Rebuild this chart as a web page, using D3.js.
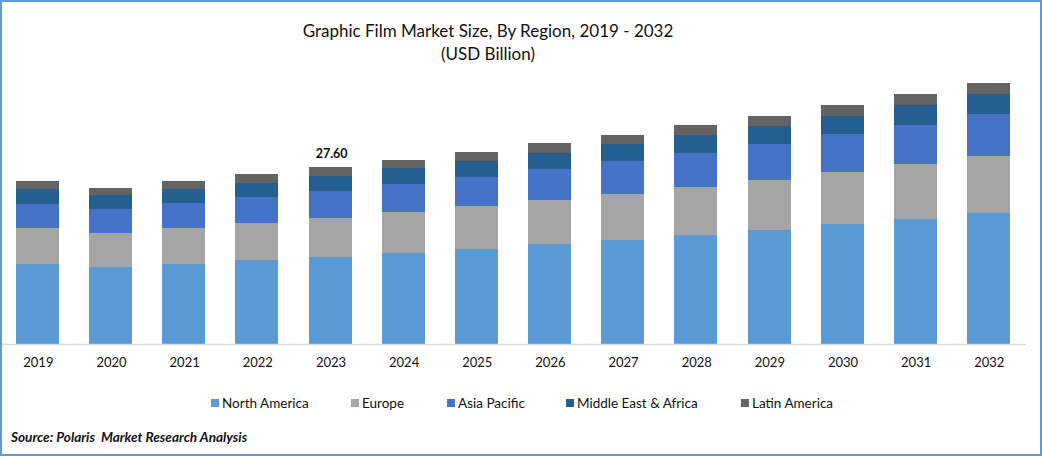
<!DOCTYPE html>
<html><head><meta charset="utf-8">
<script src="https://cdn.jsdelivr.net/npm/d3@7"></script>
<style>
html,body{margin:0;padding:0;background:#fff}
svg{display:block}
text{font-family:Lato,"Open Sans",sans-serif;fill:#111}
</style></head><body>
<div id="chart"></div>
<script>
const years = ["2019","2020","2021","2022","2023","2024","2025","2026","2027","2028","2029","2030","2031","2032"];
const seriesNames = ["North America","Europe","Asia Pacific","Middle East & Africa","Latin America"];
const northAmerica = [12.47,12.01,12.47,13.10,13.57,14.19,14.81,15.59,16.22,17.00,17.78,18.71,19.49,20.43];
const europe = [5.61,5.30,5.61,5.77,6.08,6.39,6.71,6.86,7.17,7.48,7.80,8.11,8.58,8.89];
const asiaPacific = [3.74,3.74,3.90,4.05,4.21,4.37,4.52,4.83,5.15,5.30,5.61,5.93,6.08,6.55];
const middleEastAfrica = [2.34,2.18,2.18,2.18,2.34,2.49,2.49,2.49,2.65,2.81,2.81,2.81,3.12,3.12];
const latinAmerica = [1.25,1.09,1.25,1.40,1.40,1.25,1.40,1.56,1.40,1.56,1.56,1.72,1.72,1.72];
const colors = ["#5b9bd5","#a5a5a5","#4472c4","#255e91","#636363"];
const annotatedYear = "2023";
const annotatedLabel = "27.60";
const titleLines = ["Graphic Film Market Size, By Region, 2019 - 2032","(USD Billion)"];
const sourceText = "Source: Polaris  Market Research Analysis";

const W = 1042, H = 456, baseY = 344, unit = 177/27.6;
const seriesValues = [northAmerica,europe,asiaPacific,middleEastAfrica,latinAmerica];
const rows = years.map((y,i)=>{const r={year:y};seriesNames.forEach((n,j)=>r[n]=seriesValues[j][i]);return r;});
const stacked = d3.stack().keys(seriesNames)(rows);

const x = d3.scaleBand().domain(years).range([0.98,1025.08]).paddingInner(0.412).paddingOuter(0.206);
const y = d3.scaleLinear().domain([0,baseY/unit]).range([baseY,0]);

const svg = d3.select("#chart").append("svg").attr("width",W).attr("height",H).attr("viewBox",`0 0 ${W} ${H}`);
svg.append("rect").attr("width",W).attr("height",H).attr("fill","#fff");

svg.append("g").selectAll("g").data(stacked).join("g").attr("fill",(d,i)=>colors[i])
  .selectAll("rect").data(d=>d).join("rect")
  .attr("x",d=>Math.round(x(d.data.year)))
  .attr("width",Math.round(x.bandwidth()))
  .attr("y",d=>Math.round(y(d[1])))
  .attr("height",d=>Math.round(y(d[0]))-Math.round(y(d[1])));

const axis = d3.axisBottom(x).tickSize(0).tickPadding(0);
const ag = svg.append("g").attr("transform",`translate(0,${baseY})`).call(axis);
ag.select(".domain").remove();
ag.append("line").attr("x1",2).attr("x2",1026).attr("y1",0.5).attr("y2",0.5).attr("stroke","#d9d9d9").attr("stroke-width",1.5);
ag.selectAll(".tick text").attr("y",0).attr("dy",0).attr("transform","translate(0.8,23)")
  .style("font-size","13px").style("font-family","Lato").attr("fill","#111");

const top23 = d3.sum(seriesValues,s=>s[years.indexOf(annotatedYear)]);
svg.append("text").attr("x",x(annotatedYear)+x.bandwidth()/2+1.5).attr("y",y(top23)-9.5).attr("text-anchor","middle")
  .style("font-size","12.5px").style("font-weight","700").text(annotatedLabel);

svg.selectAll(".title").data(titleLines).join("text").attr("class","title")
  .attr("x",488).attr("y",(d,i)=>36.5+i*23.5).attr("text-anchor","middle").style("font-size","17px").text(d=>d);

const legendX = [211,351,447,566,741];
const lg = svg.append("g").selectAll("g").data(seriesNames).join("g").attr("transform",(d,i)=>`translate(${legendX[i]},399)`);
lg.append("rect").attr("width",8).attr("height",8).attr("fill",(d,i)=>colors[i]);
lg.append("text").attr("x",11).attr("y",8.5).style("font-size","13.5px").text(d=>d);

svg.append("text").attr("x",11).attr("y",441.5).style("font-size","13.6px").style("font-weight","700").style("font-style","italic").style("white-space","pre").text(sourceText);

// frame
svg.append("rect").attr("x",1).attr("y",1).attr("width",W-2).attr("height",H-2).attr("fill","none").attr("stroke","#5b9bd5").attr("stroke-width",2);
</script></body></html>
